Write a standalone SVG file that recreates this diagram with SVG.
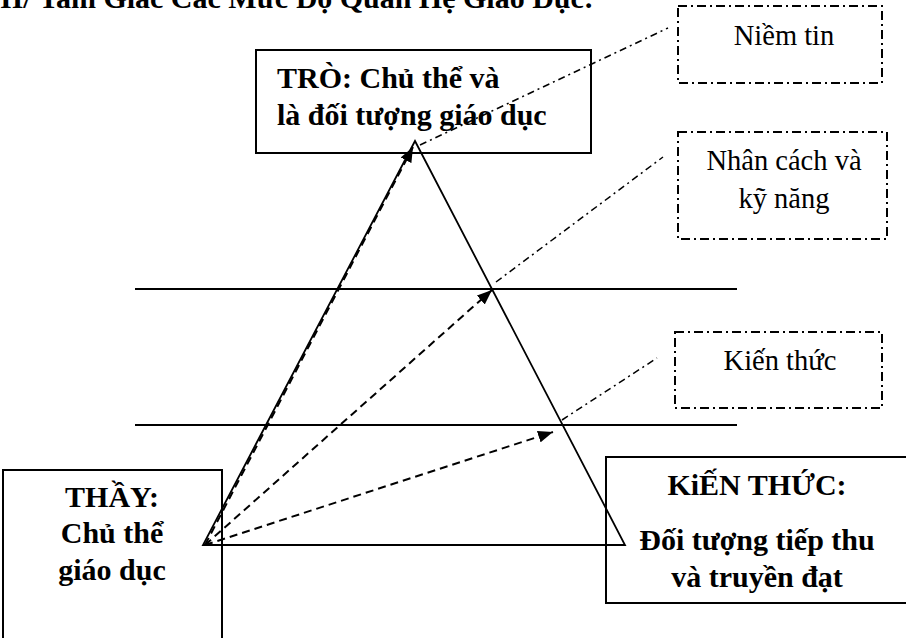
<svg xmlns="http://www.w3.org/2000/svg" width="906" height="638" viewBox="0 0 906 638">
  <style>
    text { font-family: "Liberation Serif", "Times New Roman", serif; fill: #000; }
    .b { font-weight: bold; font-size: 30px; }
    .r { font-size: 28.5px; }
    .box { fill: none; stroke: #000; stroke-width: 2; }
    .note { fill: none; stroke: #000; stroke-width: 2; stroke-dasharray: 9 4 2 4; }
    .solid { fill: none; stroke: #000; stroke-width: 2; }
    .arrow { fill: none; stroke: #000; stroke-width: 2; stroke-dasharray: 8 5; marker-end: url(#head); }
    .link { fill: none; stroke: #000; stroke-width: 1.5; stroke-dasharray: 7 4 2 4; }
  </style>
  <defs>
    <marker id="head" markerUnits="userSpaceOnUse" markerWidth="16" markerHeight="12" refX="15" refY="6" orient="auto">
      <path d="M0,0 L15,6 L0,12 z" fill="#000"/>
    </marker>
  </defs>
  <rect width="906" height="638" fill="#fff"/>

  <!-- heading -->
  <text class="b" x="0" y="8">II/ Tam Giác Các Mức Độ Quan Hệ Giáo Dục:</text>

  <!-- level lines and triangle -->
  <g id="structure">
    <line class="solid" x1="135" y1="289" x2="737" y2="289"/>
    <line class="solid" x1="135" y1="425" x2="737" y2="425"/>
    <polygon points="415,141 625,545 203,545" fill="none" stroke="#000" stroke-width="1.8" stroke-linejoin="miter"/>
  </g>

  <g id="tro">
    <rect class="box" x="256" y="50" width="335" height="103"/>
    <text class="b" x="277" y="88">TRÒ: Chủ thể và</text>
    <text class="b" x="277" y="125">là đối tượng giáo dục</text>
  </g>

  <g id="thay">
    <rect class="box" x="3" y="470" width="219" height="180"/>
    <text class="b" x="112" y="507" text-anchor="middle">THẦY:</text>
    <text class="b" x="112" y="543" text-anchor="middle">Chủ thể</text>
    <text class="b" x="112" y="580" text-anchor="middle">giáo dục</text>
  </g>

  <g id="kienthuc-main">
    <rect class="box" x="606" y="457" width="320" height="146"/>
    <text class="b" x="757" y="495" text-anchor="middle">KiẾN THỨC:</text>
    <text class="b" x="757" y="550" text-anchor="middle">Đối tượng tiếp thu</text>
    <text class="b" x="757" y="587" text-anchor="middle">và truyền đạt</text>
  </g>

  <g id="niem-tin">
    <rect class="note" x="678" y="6" width="204" height="77"/>
    <text class="r" x="784" y="45" text-anchor="middle">Niềm tin</text>
  </g>

  <g id="nhan-cach">
    <rect class="note" x="678" y="132" width="209" height="107"/>
    <text class="r" x="784" y="170" text-anchor="middle">Nhân cách và</text>
    <text class="r" x="784" y="208" text-anchor="middle">kỹ năng</text>
  </g>

  <g id="kien-thuc">
    <rect class="note" x="675" y="332" width="207" height="76"/>
    <text class="r" x="780" y="370" text-anchor="middle">Kiến thức</text>
  </g>

  <!-- connectors -->
  <g id="connectors">
    <line class="arrow" x1="205" y1="545" x2="413" y2="147"/>
    <line class="arrow" x1="205" y1="545" x2="492" y2="290"/>
    <line class="arrow" x1="205" y1="545" x2="553" y2="432"/>
    <line class="link" x1="420" y1="145" x2="668" y2="28"/>
    <line class="link" x1="496" y1="282" x2="663" y2="157"/>
    <line class="link" x1="562" y1="420" x2="657" y2="358"/>
  </g>
</svg>
